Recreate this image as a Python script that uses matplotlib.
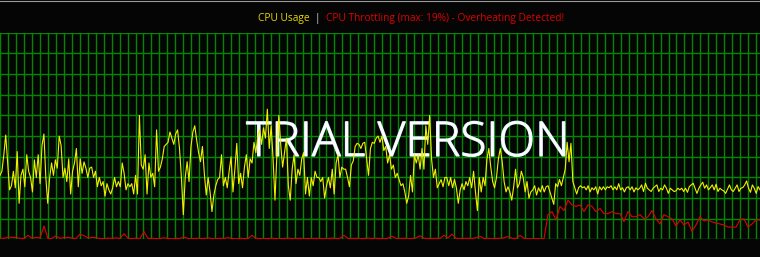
import numpy as np
import matplotlib.pyplot as plt
import matplotlib.patheffects as pe
from matplotlib.lines import Line2D

# CPU usage (%), left to right
cpu_part1 = [31, 33, 41, 50.5, 37.5, 24, 26, 33, 25, 42.5, 17.5, 31, 34, 25.5, 41,
             33, 30, 23, 38.5, 30, 41, 27, 45.5, 51, 30, 17.5, 30, 37, 31, 38.5,
             34.5, 50, 45.5, 30, 34.5, 28, 39, 22, 33, 37, 44, 25.5, 39, 32, 37.5,
             34.5, 30, 34.5, 35, 30, 33, 25.5, 30, 26, 28, 21, 27, 24, 22, 25,
             30, 25.5, 28, 25.5, 37, 32]
cpu_part2 = [24, 27, 25.5, 27, 22, 31, 22, 60, 36, 34, 41, 22, 37, 30, 32,
             25.5, 53, 33, 35, 39, 45, 46, 47, 52, 49, 46, 51, 53, 44, 30,
             12, 30, 37.6, 28, 45, 52, 55, 48, 42, 37.6, 45, 32, 21.5, 30, 23,
             13.5, 21.5, 26, 29, 30, 41, 26, 30, 25, 33, 40, 23, 34, 46.5, 27,
             32, 25, 35, 41, 30]
cpu_part3 = [39, 37, 47, 42, 50, 53, 46, 54, 49, 63, 44, 55, 39, 19, 41,
             60, 46, 35, 42, 49, 26, 19, 34, 41, 27, 34, 31, 39, 42, 22,
             30, 21, 30, 26, 33, 30, 30, 28, 30, 20, 26, 30, 25, 34, 22,
             37, 41, 30, 35, 34, 34, 30, 25.5, 36, 38, 45, 46.5, 46, 44, 46.5,
             47, 39, 31, 44, 47, 46.5, 49, 50]
cpu_part4 = [47, 50, 43, 45, 37, 41, 34, 36, 30, 32, 29, 26, 27, 23, 17.5,
             21, 31, 23, 41, 37, 41, 34, 44, 34, 55, 46, 60, 39, 30, 34,
             25, 27, 29, 25.5, 30, 30, 26, 30, 25, 29, 25, 17.5, 24, 27, 24,
             28, 26, 30, 25, 33, 23, 14, 30, 23, 30, 26, 39, 44, 35, 28,
             25, 30, 39, 44, 37.6, 28, 23]
cpu_part5 = [25.5, 23, 19, 25.5, 34, 25, 27, 33, 30, 23, 28, 20, 23, 24, 26,
             21.5, 25, 23, 26, 23, 25.5, 26, 23, 20, 17, 27, 25.5, 29, 26, 30,
             34, 47, 37.6, 46.5, 28, 25, 22, 25, 26, 25, 25.5, 24, 26, 23, 25,
             24, 25.5, 22, 25.5, 24, 25.5, 24, 25.5, 25, 26, 24, 25.5, 24, 27, 24,
             25, 23, 25, 25.5, 24, 25.5, 23, 25]
cpu_part6 = [24.0, 24.8, 26.4, 23.2, 27.2, 24.8, 24.0, 23.2, 24.8, 25.6, 26.4, 23.2,
             24.8, 24.0, 26.4, 24.8, 22.3, 24.8, 24.0, 23.2, 23.5, 24.8, 24.0, 24.8,
             23.2, 24.8, 22.8, 25.6, 26.4, 27.2, 24.8, 22.3, 24.8, 26.4, 27.7, 24.8,
             26.4, 24.0, 25.1, 26.4, 24.0, 26.7, 23.2, 24.8, 24.0, 23.5, 22.3, 24.4,
             26.4, 24.0, 23.2, 24.8, 26.4, 23.2, 24.8, 25.1, 26.4, 28.3, 24.8, 22.8,
             26.4, 24.8, 22.3, 25.6, 24.0]
cpu = cpu_part1 + cpu_part2 + cpu_part3 + cpu_part4 + cpu_part5 + cpu_part6

# CPU throttling (%), coarser sampling
thr_idle = [0.8, 0.5, 1.2, 1.0, 1.0, 0.6, 0.5, 2.0, 0.6, 1.0, 0.8, 6.5, 0.4, 0.6, 1.8,
            0.5, 1.0, 1.0, 0.7, 0.5, 2.6, 1.8, 0.8, 1.0, 0.9, 0.5, 0.4, 0.7, 0.5, 0.8,
            0.5, 2.8, 0.6, 0.4, 0.7, 0.5, 3.8, 0.5, 0.6, 0.4, 0.5, 0.8, 0.5, 0.4, 0.6,
            0.5, 1.2, 0.5, 0.4, 0.6, 0.5, 0.5, 0.8, 0.5, 0.4, 0.6, 0.5, 0.9, 0.5, 0.4,
            0.6, 0.5, 0.5, 2.0, 0.6, 0.5, 0.4, 0.5, 0.6, 0.5, 0.4, 0.5, 0.7, 0.5, 0.5,
            0.6, 0.4, 0.5, 0.5, 0.6, 0.5, 0.4, 0.5, 0.7, 0.5, 0.6, 2.0, 0.5, 0.5, 0.6,
            0.4, 0.5, 0.7, 0.5, 0.6, 0.5, 0.4, 0.6, 1.6, 0.5, 0.5, 0.6, 0.4, 0.5, 0.8,
            1.8, 0.6, 0.5, 0.5, 0.6, 0.5, 2.0, 0.8, 2.6, 0.6, 0.5, 0.5, 0.6, 0.5, 0.9,
            1.5, 0.5, 0.6, 0.4, 0.5, 0.6, 0.8, 1.5, 0.6, 0.5, 2.0, 0.6, 0.4, 0.4, 0.4,
            0.4, 0.4]
thr_hot = [12, 13.5, 9.5, 16, 14, 19, 16.7, 16, 16.7, 13.5, 16.7, 16, 13.5, 15, 12.5,
           12.5, 13.5, 12.5, 12.5, 8.7, 13.5, 11, 11, 12, 10, 11, 14, 10, 7.5, 12,
           11, 10, 6.5, 9.5, 7, 8.5, 4, 7, 11, 9, 9.5, 8.5, 8, 7.5, 7,
           6, 6, 6, 9.5, 10, 6, 7.5, 9.5, 9.5]
thr = thr_idle + thr_hot

title_cpu = "CPU Usage"
title_sep = "|"
title_thr = "CPU Throttling (max: 19%) - Overheating Detected!"
watermark = "TRIAL VERSION"

bg = '#050505'
x_cpu = np.arange(len(cpu))
x_thr = np.linspace(0, len(cpu) - 1, len(thr))

fig = plt.figure(figsize=(7.6, 2.57), dpi=100, facecolor=bg)
ax = fig.add_axes([0, 0.0681, 1, 0.8047], facecolor=bg)

ax.set_xlim(0, len(cpu) - 1)
ax.set_ylim(0, 100)
step = (len(cpu) - 1) * 7.955 / 760
ax.set_xticks(np.arange(0.3 * step / 7.955, len(cpu), step))
ax.set_yticks(np.arange(0, 101, 10))
ax.grid(True, color='#008800', linewidth=1.0)
ax.set_axisbelow(True)
ax.tick_params(length=0, labelbottom=False, labelleft=False)
for s in ax.spines.values():
    s.set_visible(False)

# watermark: above the grid, below the data lines
ax.text(408 / 760, 1 - 156 / 257, watermark, transform=fig.transFigure,
        ha='center', va='baseline', fontsize=34.5, color='white',
        family='Open Sans', fontweight='light', clip_on=False,
        path_effects=[pe.withStroke(linewidth=0.9, foreground='#d8ecff')], zorder=3)

ax.plot(x_cpu, cpu, color='#f0f000', linewidth=0.8, zorder=4)
ax.plot(x_thr, thr, color='#e00000', linewidth=0.8, zorder=5)

ty = 1 - 18 / 257
fs = 7.3
fig.text(258 / 760, ty, title_cpu, color='#e8d800', fontsize=fs, family='Open Sans', va='center')
fig.text(317 / 760, ty, title_sep, color='#c8c8c8', fontsize=fs, family='Open Sans', va='center', ha='center')
fig.text(326 / 760, ty, title_thr, color='#e00000', fontsize=fs, family='Open Sans', va='center')

fig.add_artist(Line2D([0, 1], [1 - 0.5 / 257, 1 - 0.5 / 257], color='#9a9a9a', linewidth=0.8))

fig.savefig('out.png', dpi=100, facecolor=bg)
